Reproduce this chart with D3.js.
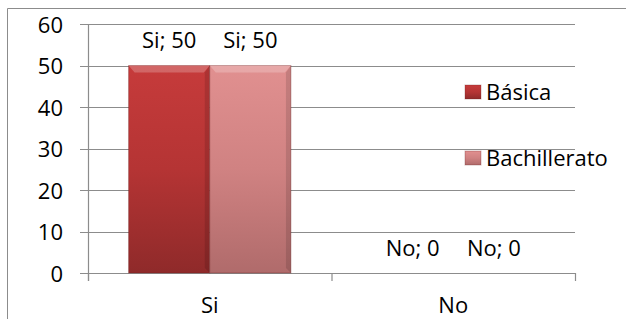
<!DOCTYPE html>
<html>
<head>
<meta charset="utf-8">
<script src="https://cdn.jsdelivr.net/npm/d3@7"></script>
<style>
  body { margin: 0; background: #fff; }
  text { font-family: "Open Sans", "Noto Sans", sans-serif; fill: #000; font-size: 22px; }
</style>
</head>
<body>
<svg width="626" height="319"></svg>
<script>
// data
var categories = ["Si", "No"];
var seriesNames = ["Básica", "Bachillerato"];
var basica = [50, 0];
var bachillerato = [50, 0];
var yTicks = [0, 10, 20, 30, 40, 50, 60];

var svg = d3.select("svg"),
    width = +svg.attr("width"),
    height = +svg.attr("height");

function label(g, tx, ty, txt, anchor) {
  return g.append("text")
    .attr("x", tx).attr("y", ty)
    .attr("dy", "0.36em")
    .attr("text-anchor", anchor || "start")
    .text(txt);
}

// chart frame
svg.append("path")
  .attr("d", "M7.5," + height + "V8.5H" + width)
  .attr("fill", "none").attr("stroke", "#8c8c8c");

var plotL = 88, plotR = 575, plotT = 24, plotB = 273;

var x = d3.scaleBand().domain(categories).range([plotL, plotR]);
var xs = d3.scaleBand().domain(seriesNames).range([0, x.bandwidth()]).paddingInner(0).paddingOuter(0.5);
var y = d3.scaleLinear().domain([0, 60]).range([plotB, plotT]);

// gradients
var defs = svg.append("defs");
function grad(id, stops) {
  var g = defs.append("linearGradient").attr("id", id)
    .attr("x1", 0).attr("y1", 0).attr("x2", 0).attr("y2", 1);
  stops.forEach(function(s) { g.append("stop").attr("offset", s[0]).attr("stop-color", s[1]); });
}
grad("g0", [[0, "#c63b3b"], [0.5, "#b53434"], [1, "#8f2a2a"]]);
grad("g1", [[0, "#e19090"], [0.5, "#d08282"], [1, "#b06b6b"]]);
var fills = ["url(#g0)", "url(#g1)"];

// gridlines
svg.append("g").selectAll("line").data(yTicks).enter().append("line")
  .attr("x1", plotL - 8).attr("x2", plotR)
  .attr("y1", function(d) { return Math.round(y(d)) + 0.5; })
  .attr("y2", function(d) { return Math.round(y(d)) + 0.5; })
  .attr("stroke", "#8c8c8c").attr("stroke-width", 1.2);

// y axis line
svg.append("line").attr("x1", plotL + 0.5).attr("x2", plotL + 0.5)
  .attr("y1", plotT).attr("y2", plotB + 8).attr("stroke", "#8c8c8c").attr("stroke-width", 1.2);

// x ticks
var xb = [plotL, x("No"), plotR];
svg.append("g").selectAll("line").data(xb).enter().append("line")
  .attr("x1", function(d) { return d + 0.5; }).attr("x2", function(d) { return d + 0.5; })
  .attr("y1", plotB).attr("y2", plotB + 8)
  .attr("stroke", "#8c8c8c").attr("stroke-width", 1.2);

// y tick labels
var gy = svg.append("g");
yTicks.forEach(function(t) { label(gy, 63, y(t) + 1, t, "end"); });

// bars
var rows = [basica, bachillerato];
rows.forEach(function(vals, si) {
  var g = svg.append("g");
  vals.forEach(function(v, ci) {
    var bx = x(categories[ci]) + xs(seriesNames[si]);
    var bw = xs.bandwidth();
    var by = y(v), bh = y(0) - y(v);
    if (bh > 0) {
      g.append("rect").attr("x", bx).attr("y", by).attr("width", bw).attr("height", bh)
        .attr("fill", fills[si]).attr("stroke", "#6b2020").attr("stroke-opacity", 0.35);
      // bevel top
      g.append("path")
        .attr("d", "M" + bx + "," + by + "h" + bw + "l-6,7h" + (-(bw - 12)) + "z")
        .attr("fill", "#fff").attr("opacity", 0.22);
      // bevel right side
      g.append("path")
        .attr("d", "M" + (bx + bw) + "," + by + "v" + bh + "l-5,-5v" + (-(bh - 12)) + "z")
        .attr("fill", "#000").attr("opacity", 0.12);
    }
    label(g, bx + bw / 2, by - 25, categories[ci] + "; " + v, "middle");
  });
});

// category labels
var gx = svg.append("g");
categories.forEach(function(c) { label(gx, x(c) + x.bandwidth() / 2, 305, c, "middle"); });

// legend
var legY = [92, 158];
seriesNames.forEach(function(n, i) {
  svg.append("rect").attr("x", 465).attr("y", legY[i] - 7).attr("width", 16).attr("height", 14)
    .attr("fill", fills[i]).attr("stroke", "#6b2020").attr("stroke-opacity", 0.3);
  label(svg, 486, legY[i], n, "start");
});
</script>
</body>
</html>
